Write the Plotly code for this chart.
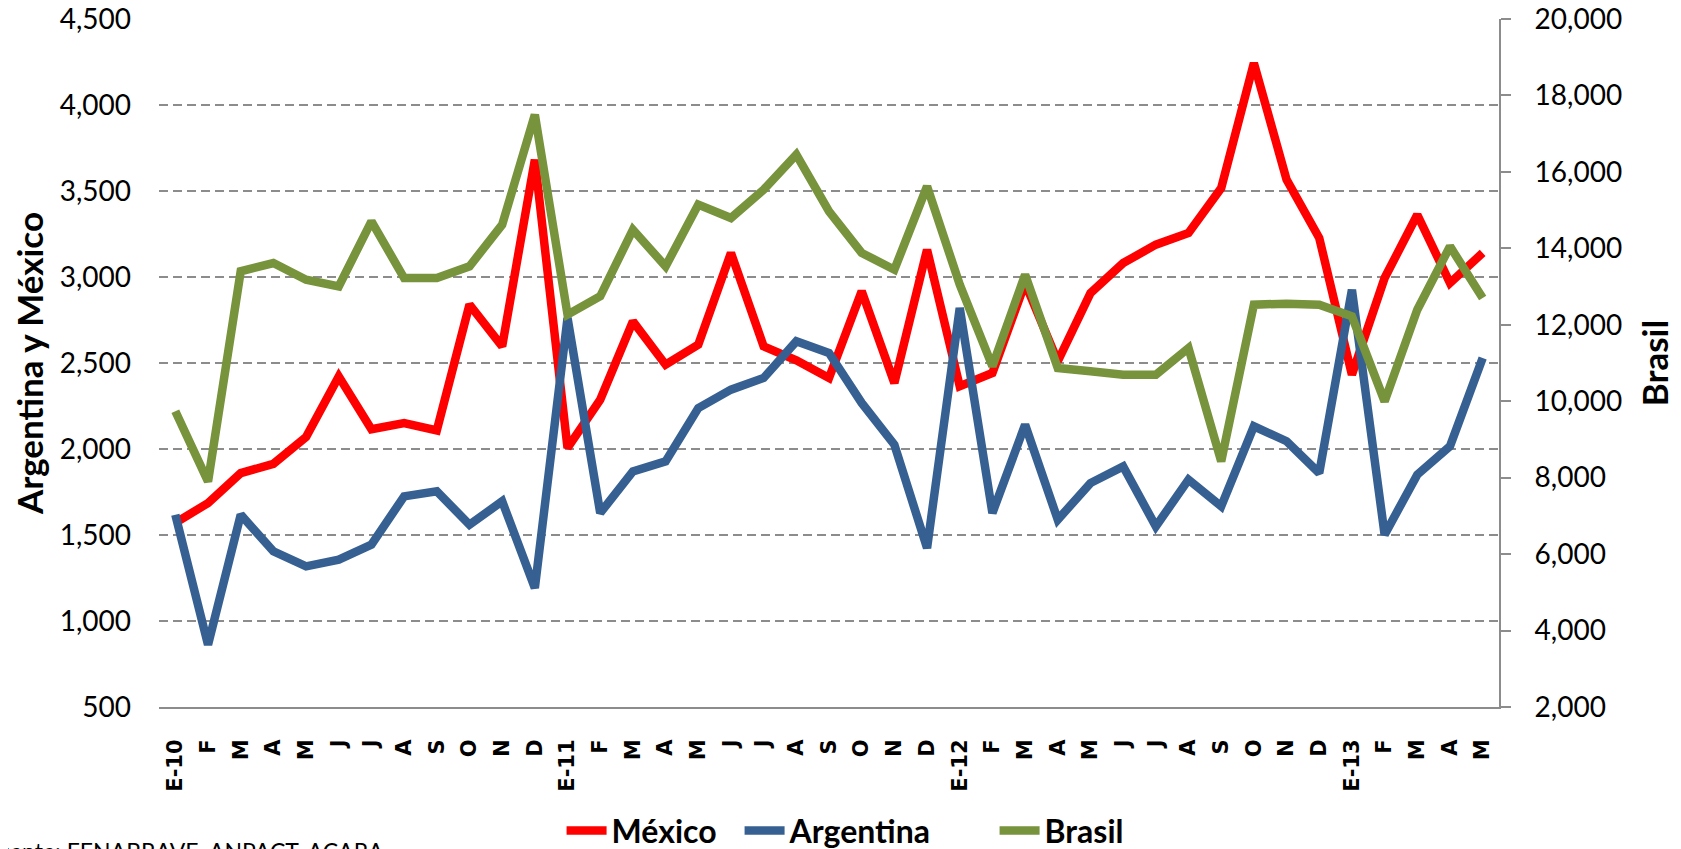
import plotly.graph_objects as go

# ── data ─────────────────────────────────────────────────────────────────────
meses = [
    "E-10", "F", "M", "A", "M", "J", "J", "A", "S", "O", "N", "D",
    "E-11", "F", "M", "A", "M", "J", "J", "A", "S", "O", "N", "D",
    "E-12", "F", "M", "A", "M", "J", "J", "A", "S", "O", "N", "D",
    "E-13", "F", "M", "A", "M",
]

mexico = [
    1570, 1686, 1860, 1914, 2070, 2422, 2115, 2151, 2108, 2839, 2597, 3682,
    2006, 2287, 2742, 2490, 2607, 3140, 2597, 2516, 2413, 2917, 2384, 3159,
    2365, 2442, 2965, 2510, 2906, 3081, 3188, 3256, 3517, 4244, 3566, 3227,
    2432, 2994, 3362, 2965, 3140,
]

argentina = [
    1618, 862, 1618, 1405, 1318, 1357, 1444, 1725, 1754, 1560, 1696, 1192,
    2762, 1628, 1870, 1928, 2238, 2345, 2413, 2626, 2558, 2268, 2025, 1424,
    2820, 1628, 2141, 1589, 1802, 1899, 1550, 1822, 1667, 2132, 2045, 1860,
    2926, 1502, 1851, 2016, 2529,
]

brasil = [
    9736, 7900, 13399, 13615, 13178, 13005, 14706, 13223, 13223, 13529, 14618, 17498,
    12266, 12746, 14488, 13529, 15145, 14794, 15536, 16450, 14969, 13880, 13442, 15622,
    13052, 10915, 13311, 10870, 10784, 10694, 10694, 11392, 8426, 12526, 12553, 12526,
    12220, 9996, 12395, 14051, 12701,
]

fuente = "Fuente: FENABRAVE, ANPACT, ACARA"

# ── chart ────────────────────────────────────────────────────────────────────
ROJO = "#FF0000"
AZUL = "#376092"
VERDE = "#77933C"
GRIS = "#8C8C8C"

x = list(range(len(meses)))

fig = go.Figure()
fig.add_trace(go.Scatter(x=x, y=mexico, name="México", mode="lines",
                         line=dict(color=ROJO, width=8.5), legendwidth=123))
fig.add_trace(go.Scatter(x=x, y=argentina, name="Argentina", mode="lines",
                         line=dict(color=AZUL, width=8.5), legendwidth=200))
fig.add_trace(go.Scatter(x=x, y=brasil, name="Brasil", mode="lines",
                         line=dict(color=VERDE, width=8.5), yaxis="y2"))

# the page adds an 8px body margin, so the margins are shifted by 8px
fig.update_layout(
    width=1681, height=849,
    margin=dict(l=151, r=190, t=11, b=150),
    paper_bgcolor="white", plot_bgcolor="white",
    font=dict(family="Lato, sans-serif", color="black"),
    showlegend=True,
    legend=dict(
        orientation="h", x=0.512, xanchor="center",
        yref="container", y=0.031, yanchor="middle",
        font=dict(size=32, family="Lato, sans-serif", weight="bold"),
        itemwidth=40,
    ),
    xaxis=dict(
        range=[-0.5, len(meses) - 0.5],
        tickmode="array", tickvals=x, ticktext=meses,
        tickangle=-90,
        tickfont=dict(size=21, family="DejaVu Sans", weight="bold"),
        ticklabelstandoff=22,
        showgrid=False, zeroline=False, automargin=False,
        showline=True, linecolor=GRIS, linewidth=2,
    ),
    yaxis=dict(
        range=[500, 4500], dtick=500, tickformat=",",
        tickfont=dict(size=28),
        ticklabelstandoff=27, ticklabeloverflow="allow",
        showgrid=True, gridcolor=GRIS, gridwidth=1.5, griddash="9px,5px",
        zeroline=False, showline=False, automargin=False,
        title=dict(text="Argentina y México", standoff=14,
                   font=dict(size=35, weight="bold")),
    ),
    yaxis2=dict(
        range=[2000, 20000], dtick=2000, tickformat=",",
        overlaying="y", side="right",
        tickfont=dict(size=28),
        ticks="outside", ticklen=10, tickcolor=GRIS, tickwidth=1.5,
        ticklabelstandoff=18, ticklabeloverflow="allow",
        showgrid=False, zeroline=False, automargin=False,
        showline=True, linecolor=GRIS, linewidth=2,
        title=dict(text="Brasil", standoff=22,
                   font=dict(size=35, weight="bold")),
    ),
    annotations=[dict(
        text=fuente, xref="paper", yref="paper",
        x=-0.131, y=-0.186, xanchor="left", yanchor="top",
        showarrow=False, font=dict(size=23),
    )],
)

fig.write_html("out.html")
